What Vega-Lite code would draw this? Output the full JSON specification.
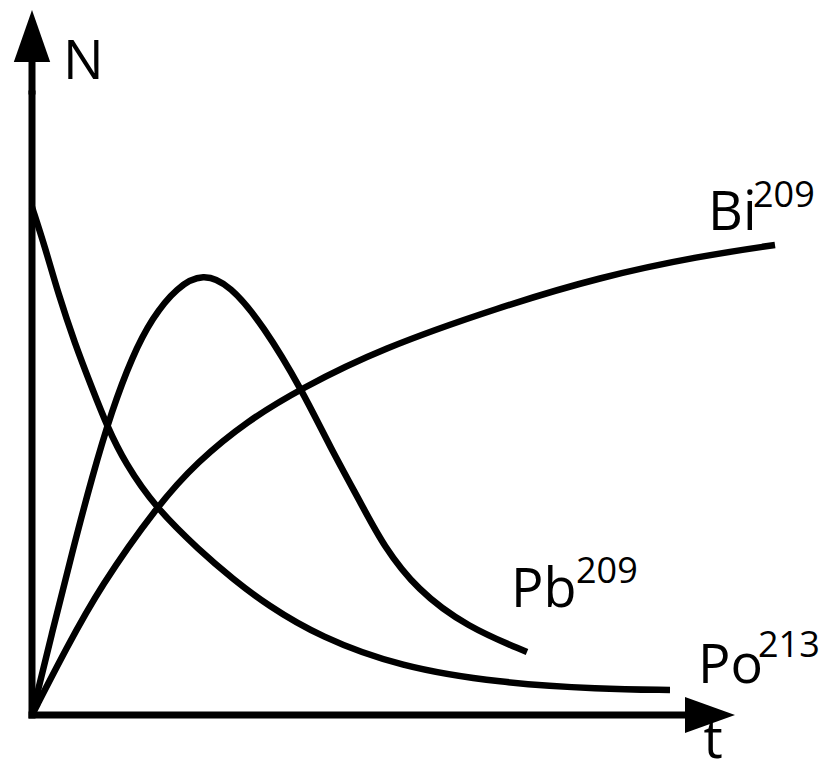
{
  "$schema": "https://vega.github.io/schema/vega-lite/v6.json",
  "width": 835,
  "height": 769,
  "autosize": {"type": "fit", "contains": "padding"},
  "padding": 0,
  "background": "white",
  "config": {"view": {"stroke": null}},
  "datasets": {
    "curves": [
      {"series": "Po213", "t": 0, "N": 5.08},
      {"series": "Po213", "t": 0.13, "N": 4.68},
      {"series": "Po213", "t": 0.26, "N": 4.22},
      {"series": "Po213", "t": 0.43, "N": 3.71},
      {"series": "Po213", "t": 0.60, "N": 3.27},
      {"series": "Po213", "t": 0.75, "N": 2.89},
      {"series": "Po213", "t": 0.93, "N": 2.52},
      {"series": "Po213", "t": 1.23, "N": 2.08},
      {"series": "Po213", "t": 1.68, "N": 1.64},
      {"series": "Po213", "t": 2.01, "N": 1.36},
      {"series": "Po213", "t": 2.35, "N": 1.10},
      {"series": "Po213", "t": 2.88, "N": 0.78},
      {"series": "Po213", "t": 3.68, "N": 0.48},
      {"series": "Po213", "t": 4.68, "N": 0.32},
      {"series": "Po213", "t": 5.68, "N": 0.26},
      {"series": "Po213", "t": 6.38, "N": 0.25},
      {"series": "Pb209", "t": 0, "N": 0},
      {"series": "Pb209", "t": 0.2, "N": 0.82},
      {"series": "Pb209", "t": 0.4, "N": 1.62},
      {"series": "Pb209", "t": 0.6, "N": 2.38},
      {"series": "Pb209", "t": 0.8, "N": 3.05},
      {"series": "Pb209", "t": 1.0, "N": 3.58},
      {"series": "Pb209", "t": 1.2, "N": 3.97},
      {"series": "Pb209", "t": 1.45, "N": 4.28},
      {"series": "Pb209", "t": 1.71, "N": 4.42},
      {"series": "Pb209", "t": 1.98, "N": 4.30},
      {"series": "Pb209", "t": 2.31, "N": 3.90},
      {"series": "Pb209", "t": 2.70, "N": 3.25},
      {"series": "Pb209", "t": 2.98, "N": 2.68},
      {"series": "Pb209", "t": 3.31, "N": 2.08},
      {"series": "Pb209", "t": 3.51, "N": 1.70},
      {"series": "Pb209", "t": 3.85, "N": 1.25},
      {"series": "Pb209", "t": 4.35, "N": 0.88},
      {"series": "Pb209", "t": 4.95, "N": 0.63},
      {"series": "Bi209", "t": 0, "N": 0},
      {"series": "Bi209", "t": 0.35, "N": 0.68},
      {"series": "Bi209", "t": 0.68, "N": 1.28},
      {"series": "Bi209", "t": 1.25, "N": 2.09},
      {"series": "Bi209", "t": 1.65, "N": 2.53},
      {"series": "Bi209", "t": 2.15, "N": 2.94},
      {"series": "Bi209", "t": 2.70, "N": 3.27},
      {"series": "Bi209", "t": 3.48, "N": 3.66},
      {"series": "Bi209", "t": 4.68, "N": 4.08},
      {"series": "Bi209", "t": 5.68, "N": 4.38},
      {"series": "Bi209", "t": 6.68, "N": 4.59},
      {"series": "Bi209", "t": 7.43, "N": 4.70}
    ],
    "axislines": [
      {"t": 0, "N": 0, "t2": 0, "N2": 6.21},
      {"t": 0, "N": 6.24, "t2": 0, "N2": 6.53},
      {"t": 0, "N": 0, "t2": 6.53, "N2": 0}
    ],
    "uparrow": [{"t": 0, "N": 6.79}],
    "rightarrow": [{"t": 6.78, "N": 0}],
    "labels": [
      {"text": "N", "t": 0.31, "N": 6.36},
      {"text": "Bi", "t": 6.76, "N": 4.85},
      {"text": "Pb", "t": 4.79, "N": 1.08},
      {"text": "Po", "t": 6.66, "N": 0.32}
    ],
    "sups": [
      {"text": "209", "t": 7.21, "N": 5.08},
      {"text": "209", "t": 5.44, "N": 1.32},
      {"text": "213", "t": 7.26, "N": 0.58}
    ],
    "tlabel": [{"text": "t", "t": 6.81, "N": -0.43}]
  },
  "encoding": {
    "x": {"field": "t", "type": "quantitative", "scale": {"domain": [-0.32, 8.03], "nice": false, "zero": false}, "axis": null},
    "y": {"field": "N", "type": "quantitative", "scale": {"domain": [-0.54, 7.15], "nice": false, "zero": false}, "axis": null}
  },
  "layer": [
    {
      "data": {"name": "axislines"},
      "mark": {"type": "rule", "color": "black", "strokeWidth": 7, "strokeCap": "square"},
      "encoding": {"x2": {"field": "t2"}, "y2": {"field": "N2"}}
    },
    {
      "data": {"name": "uparrow"},
      "mark": {"type": "point", "filled": true, "color": "black", "opacity": 1, "shape": "M0,-1L0.7,1L-0.7,1Z", "size": 2704, "strokeWidth": 0}
    },
    {
      "data": {"name": "rightarrow"},
      "mark": {"type": "point", "filled": true, "color": "black", "opacity": 1, "shape": "M1,0L-1,-0.72L-1,0.72Z", "size": 2500, "strokeWidth": 0}
    },
    {
      "data": {"name": "curves"},
      "mark": {"type": "line", "color": "black", "strokeWidth": 6.5, "interpolate": "basis", "strokeCap": "butt"},
      "encoding": {"detail": {"field": "series"}}
    },
    {
      "data": {"name": "labels"},
      "mark": {"type": "text", "font": "Open Sans", "fontSize": 54, "align": "left", "baseline": "alphabetic", "color": "black"},
      "encoding": {"text": {"field": "text"}}
    },
    {
      "data": {"name": "sups"},
      "mark": {"type": "text", "font": "Open Sans", "fontSize": 36, "align": "left", "baseline": "alphabetic", "color": "black"},
      "encoding": {"text": {"field": "text"}}
    },
    {
      "data": {"name": "tlabel"},
      "mark": {"type": "text", "font": "Open Sans", "fontSize": 54, "align": "center", "baseline": "alphabetic", "color": "black"},
      "encoding": {"text": {"field": "text"}}
    }
  ]
}
